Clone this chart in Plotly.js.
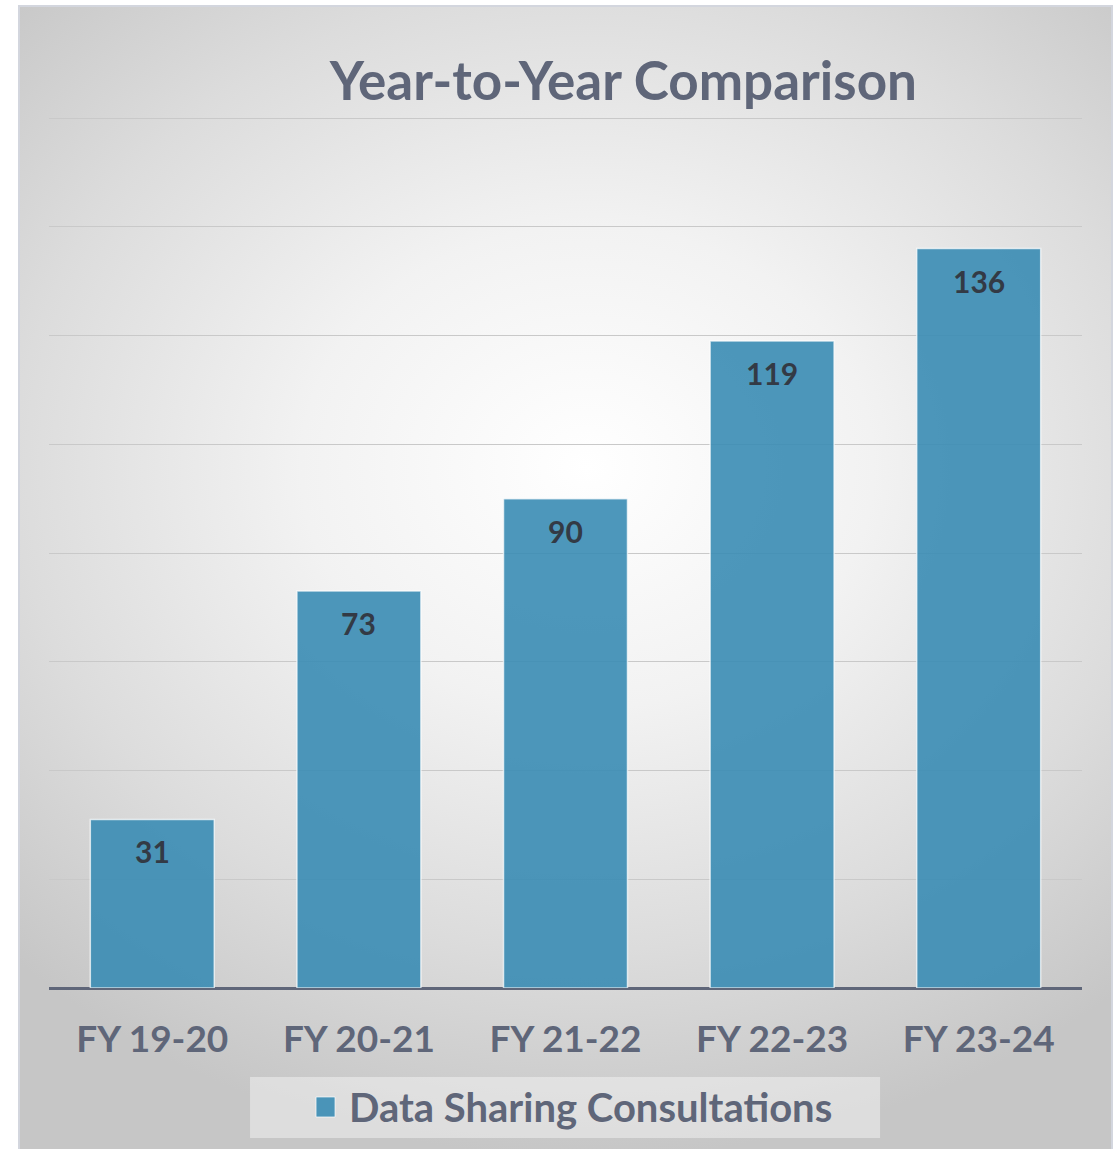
<!DOCTYPE html>
<html>
<head>
<meta charset="utf-8">
<script src="https://cdn.plot.ly/plotly-3.0.1.min.js"></script>
<style>
  html, body { margin: 0; padding: 0; background: #ffffff; }
  #wrap { position: relative; width: 1120px; height: 1149px; overflow: hidden; }
  #frame {
    position: absolute; left: 18px; top: 5px; width: 1091px; height: 1150px;
    border: 2px solid #d3d6de;
    background: radial-gradient(ellipse 75% 60% at 52% 40%, #ffffff 0%, #f2f2f2 35%, #dcdcdc 70%, #c6c6c6 100%);
  }
  #chart { position: absolute; left: 0; top: 0; width: 1120px; height: 1149px; }
</style>
</head>
<body>
<div id="wrap">
  <div id="frame"></div>
  <div id="chart"></div>
</div>
<script>
const categories = ["FY 19-20", "FY 20-21", "FY 21-22", "FY 22-23", "FY 23-24"];
const consultations = [31, 73, 90, 119, 136];
const seriesName = "Data Sharing Consultations";
const chartTitle = "Year-to-Year Comparison";

const textColor = "#5f6679";
const fontFamily = "Lato, 'Open Sans', sans-serif";
const barColor = "rgba(58,140,180,0.9)";

const trace = {
  type: "bar",
  x: categories,
  y: consultations,
  name: seriesName,
  marker: { color: barColor, line: { color: "rgba(255,255,255,0.7)", width: 1.5 } },
  showlegend: false,
  hoverinfo: "skip"
};

// value labels, placed through the axes' own scales
const valueLabels = categories.map((c, i) => ({
  x: c, y: consultations[i], xref: "x", yref: "y",
  text: String(consultations[i]), showarrow: false,
  yanchor: "middle", yshift: -32,
  font: { family: fontFamily, size: 30, color: "#333a45", weight: "bold" }
}));

// legend (drawn manually to match the wide box and larger swatch)
const legendText = {
  x: 0.2885, y: -0.1366, xref: "paper", yref: "paper",
  xanchor: "left", yanchor: "middle", showarrow: false,
  text: seriesName,
  font: { family: fontFamily, size: 40, color: textColor, weight: "bold" }
};

const layout = {
  width: 1120,
  height: 1149,
  margin: { l: 49, r: 38, t: 117, b: 161 },
  paper_bgcolor: "rgba(0,0,0,0)",
  plot_bgcolor: "rgba(0,0,0,0)",
  bargap: 0.4,
  showlegend: false,
  title: {
    text: chartTitle,
    font: { family: fontFamily, size: 53, color: textColor, weight: "bold" },
    x: 0.556, xanchor: "center", xref: "paper",
    y: 0.929, yanchor: "middle", yref: "container"
  },
  xaxis: {
    type: "category",
    showgrid: false,
    zeroline: false,
    showline: false,
    ticks: "",
    tickfont: { family: fontFamily, size: 37, color: textColor, weight: "bold" },
    ticklabelstandoff: 26
  },
  yaxis: {
    range: [0, 160.2],
    tickvals: [20, 40, 60, 80, 100, 120, 140, 160],
    showticklabels: false,
    showgrid: true,
    gridcolor: "#c9c9c9",
    gridwidth: 1,
    zeroline: true,
    zerolinecolor: "#5f6679",
    zerolinewidth: 3,
    showline: false,
    ticks: ""
  },
  shapes: [
    { type: "rect", xref: "paper", yref: "paper", layer: "below",
      x0: 0.1946, x1: 0.8045, y0: -0.1722, y1: -0.1022,
      fillcolor: "rgba(255,255,255,0.4)", line: { width: 0 } },
    { type: "rect", xref: "paper", yref: "paper",
      x0: 0.2585, x1: 0.2769, y0: -0.1481, y1: -0.1251,
      fillcolor: barColor, line: { color: "rgba(255,255,255,0.7)", width: 1 } }
  ],
  annotations: valueLabels.concat([legendText])
};

Plotly.newPlot("chart", [trace], layout, { displayModeBar: false, staticPlot: true });
</script>
</body>
</html>
